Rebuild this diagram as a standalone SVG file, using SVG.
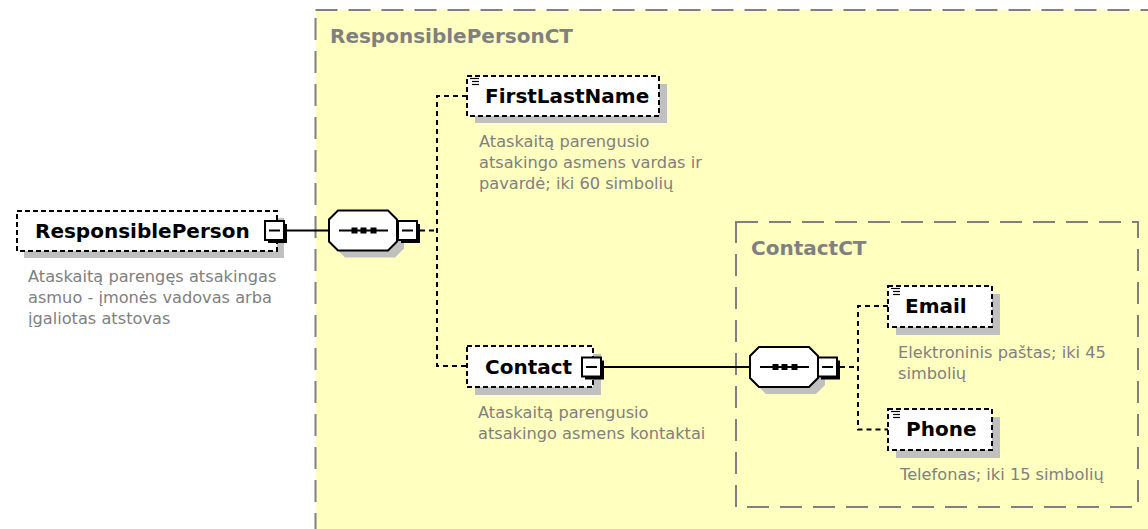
<svg xmlns="http://www.w3.org/2000/svg" width="1148" height="529" viewBox="0 0 1148 529">
<style>
.name{font-family:"DejaVu Sans",Verdana,sans-serif;font-weight:bold;font-size:20px;fill:#000}
.ct{font-family:"DejaVu Sans",Verdana,sans-serif;font-weight:bold;font-size:20px;fill:#808080}
.desc{font-family:"DejaVu Sans",Verdana,sans-serif;font-size:16.2px;fill:#808080}
.box{fill:#fff;stroke:#000;stroke-width:2;stroke-dasharray:5,3}
.shadow{fill:#c0c0c0}
.ctbox{fill:#ffffc0;stroke:#808080;stroke-width:2;stroke-dasharray:22,11}
.conn{fill:none;stroke:#000;stroke-width:2}
.dconn{fill:none;stroke:#000;stroke-width:2;stroke-dasharray:5,4}
.mbox{fill:#fff;stroke:#000;stroke-width:2}
.mline{stroke:#000;stroke-width:2}
.mshadow{fill:#000}
.oct{fill:#fff;stroke:#000;stroke-width:2}
.icon{stroke:#000;stroke-width:1.2}
</style>
<defs>
<g id="minus">
<rect class="mshadow" x="3" y="3" width="19" height="19"/>
<rect class="mbox" x="0" y="0" width="19" height="19"/>
<line class="mline" x1="4" y1="9.5" x2="15" y2="9.5"/>
</g>
<g id="seqicon">
<polygon class="shadow" points="16,7 66,7 75,16 75,38 66,47 16,47 7,38 7,16"/>
<polygon class="oct" points="9,0 59,0 68,9 68,31 59,40 9,40 0,31 0,9"/>
<line class="mline" x1="10" y1="20" x2="59" y2="20"/>
<rect x="22.5" y="17" width="6" height="6" fill="#000"/>
<rect x="31.5" y="17" width="6" height="6" fill="#000"/>
<rect x="41.5" y="17" width="6" height="6" fill="#000"/>
</g>
<g id="elicon">
<line class="icon" x1="3" y1="2.5" x2="12" y2="2.5"/>
<line class="icon" x1="5" y1="5.5" x2="12" y2="5.5"/>
<line class="icon" x1="5" y1="8.5" x2="12" y2="8.5"/>
</g>
</defs>

<g id="ResponsiblePersonCT">
<rect class="ctbox" x="315.5" y="10" width="900" height="600"/>
<text class="ct" x="330" y="43">ResponsiblePersonCT</text>
</g>

<g id="ContactCT">
<rect class="ctbox" x="736" y="222" width="402" height="285"/>
<text class="ct" x="751" y="255">ContactCT</text>
</g>

<g id="connectors">
<line class="conn" x1="284" y1="230.5" x2="329" y2="230.5"/>
<line class="dconn" x1="420" y1="230.5" x2="437" y2="230.5"/>
<path class="dconn" d="M467,96 H437 V366 H467"/>
<line class="conn" x1="600" y1="367" x2="751" y2="367"/>
<line class="dconn" x1="840" y1="367" x2="858" y2="367"/>
<path class="dconn" d="M888,306 H858 V429.5 H888"/>
</g>

<g id="ResponsiblePerson">
<rect class="shadow" x="24" y="218" width="260" height="40"/>
<rect class="box" x="17" y="211" width="260" height="40"/>
<text class="name" x="35" y="237.5">ResponsiblePerson</text>
<use href="#minus" x="265" y="221"/>
<text class="desc" x="28" y="282">Ataskaitą parengęs atsakingas</text>
<text class="desc" x="28" y="303">asmuo - įmonės vadovas arba</text>
<text class="desc" x="28" y="324">įgaliotas atstovas</text>
</g>

<g id="sequence1">
<use href="#seqicon" x="329" y="210.5"/>
<use href="#minus" x="398" y="221"/>
</g>

<g id="FirstLastName">
<rect class="shadow" x="475" y="84" width="192" height="39"/>
<rect class="box" x="467" y="76" width="192" height="40"/>
<use href="#elicon" x="467" y="76"/>
<text class="name" x="485" y="103">FirstLastName</text>
<text class="desc" x="479" y="147">Ataskaitą parengusio</text>
<text class="desc" x="479" y="168">atsakingo asmens vardas ir</text>
<text class="desc" x="479" y="189">pavardė; iki 60 simbolių</text>
</g>

<g id="Contact">
<rect class="shadow" x="475" y="354" width="126" height="41"/>
<rect class="box" x="467" y="346" width="126" height="41"/>
<text class="name" x="485" y="373.5">Contact</text>
<use href="#minus" x="582" y="357.5"/>
<text class="desc" x="478" y="418">Ataskaitą parengusio</text>
<text class="desc" x="478" y="439">atsakingo asmens kontaktai</text>
</g>

<g id="sequence2">
<use href="#seqicon" x="750" y="347"/>
<use href="#minus" x="818" y="357.5"/>
</g>

<g id="Email">
<rect class="shadow" x="896" y="294" width="104" height="41"/>
<rect class="box" x="888" y="286" width="104" height="41"/>
<use href="#elicon" x="888" y="286"/>
<text class="name" x="905" y="313">Email</text>
<text class="desc" x="898" y="358">Elektroninis paštas; iki 45</text>
<text class="desc" x="898" y="379">simbolių</text>
</g>

<g id="Phone">
<rect class="shadow" x="896" y="417" width="104" height="41"/>
<rect class="box" x="888" y="409" width="104" height="41"/>
<use href="#elicon" x="888" y="409"/>
<text class="name" x="906" y="436">Phone</text>
<text class="desc" x="900" y="480">Telefonas; iki 15 simbolių</text>
</g>
</svg>
